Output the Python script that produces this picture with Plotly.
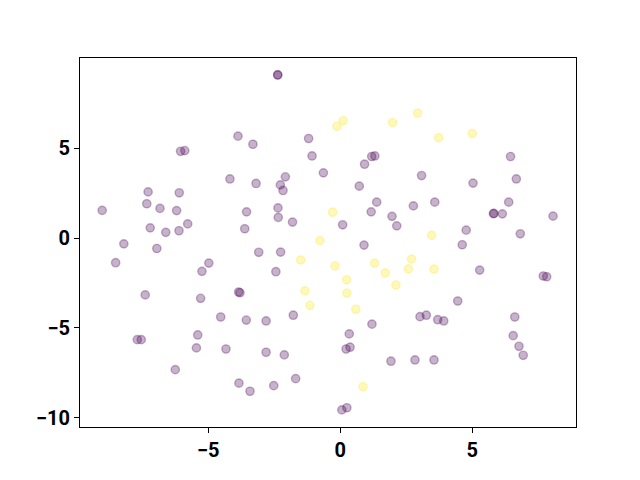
import plotly.graph_objects as go

# purple (class 0) points
x0 = [-3.875, -6.05, -5.89, -4.18, -7.28, -6.10, -7.33, -6.83, -6.20, -9.02,
      -3.55, -7.20, -5.78, -6.61, -6.11, -3.62, -8.20, -6.95, -8.51, -4.98,
      -5.24, -7.39, -5.29, -3.85, -3.80, -4.53, -3.56, -7.69, -7.54, -5.40,
      -5.45, -4.33, -6.25, -3.84, -3.42, -2.37, -2.37, -1.20, -3.31, -1.07,
      1.19, 1.31, 0.92, -0.64, -2.08, -3.19, -2.27, -2.17, 0.72, 1.38,
      2.77, -2.36, 1.17, 1.96, -2.35, -1.81, 0.09, 2.14, 0.90, 6.45,
      3.08, 6.67, 5.03, 3.58, 6.38, 5.82, 5.80, 6.14, 8.06, 4.77,
      6.82, 4.62, -3.09, -2.26, -2.44, -1.78, -2.81, 1.20, 0.34, 0.22,
      0.37, -2.81, -2.12, 1.92, 2.83, -1.69, -2.52, 0.06, 0.25, 5.28,
      7.69, 7.82, 4.45, 3.02, 3.26, 3.69, 3.92, 6.61, 6.55, 6.77,
      6.93, 3.55]
y0 = [5.67, 4.83, 4.87, 3.29, 2.57, 2.52, 1.91, 1.65, 1.53, 1.54,
      1.46, 0.57, 0.79, 0.32, 0.41, 0.52, -0.32, -0.58, -1.37, -1.39,
      -1.85, -3.16, -3.35, -3.00, -3.04, -4.39, -4.56, -5.65, -5.65, -5.39,
      -6.11, -6.17, -7.32, -8.07, -8.52, 9.09, 9.07, 5.54, 5.22, 4.57,
      4.54, 4.57, 4.11, 3.63, 3.41, 3.04, 2.96, 2.65, 2.89, 2.00,
      1.79, 1.68, 1.46, 1.21, 1.15, 0.89, 0.74, 0.68, -0.39, 4.54,
      3.48, 3.29, 3.06, 2.00, 2.00, 1.37, 1.36, 1.35, 1.22, 0.44,
      0.24, -0.37, -0.79, -0.78, -1.87, -4.29, -4.61, -4.79, -5.33, -6.17,
      -6.07, -6.35, -6.50, -6.85, -6.78, -7.82, -8.21, -9.56, -9.44, -1.78,
      -2.11, -2.15, -3.50, -4.37, -4.29, -4.54, -4.61, -4.39, -5.43, -6.02,
      -6.52, -6.78]

# yellow (class 1) points
x1 = [-0.125, 0.11, 1.98, 2.93, 3.73, 5.00, -0.29, -0.77, 3.46, -1.50,
      -0.20, 1.30, 1.70, 2.58, 2.70, 3.55, 0.24, 0.25, 2.11, -1.34,
      -1.15, 0.59, 0.86]
y1 = [6.22, 6.54, 6.43, 6.96, 5.59, 5.82, 1.44, -0.14, 0.15, -1.22,
      -1.54, -1.39, -1.94, -1.71, -1.17, -1.72, -2.32, -3.06, -2.61, -2.94,
      -3.74, -3.96, -8.26]

xs = x0 + x1
ys = y0 + y1
labels = [0] * len(x0) + [1] * len(x1)

palette = {0: "rgba(68,1,84,0.3)", 1: "rgba(253,231,37,0.3)"}
colors = [palette[l] for l in labels]

fig = go.Figure()
fig.add_trace(go.Scatter(
    x=xs, y=ys, mode="markers",
    marker=dict(size=8.3, color=colors, line=dict(width=1.4, color=colors)),
    showlegend=False,
))

axis_common = dict(
    showline=True, linecolor="black", linewidth=1.1, mirror=True,
    ticks="outside", ticklen=4.9, tickwidth=1.1, tickcolor="black",
    showgrid=False, zeroline=False,
    tickfont=dict(family="Roboto", size=20, color="black", weight="bold"),
)

fig.update_layout(
    width=640, height=480,
    margin=dict(l=72, r=72, t=50, b=61),
    paper_bgcolor="white", plot_bgcolor="white",
    xaxis=dict(range=[-9.86, 8.93], tickvals=[-5, 0, 5], **axis_common),
    yaxis=dict(range=[-10.51, 10.02], tickvals=[-10, -5, 0, 5], **axis_common),
)

fig.write_html("out.html")
